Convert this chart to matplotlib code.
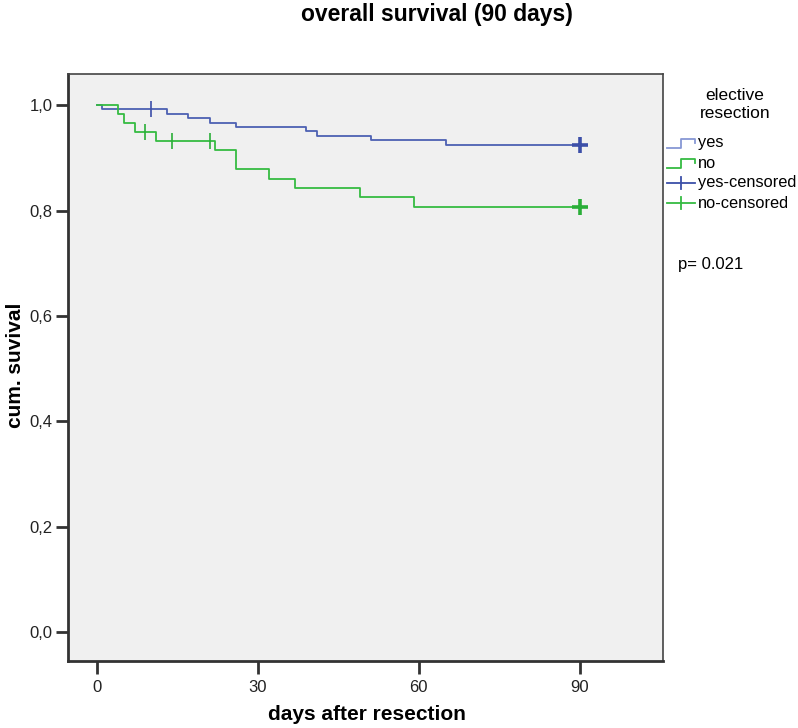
import numpy as np
import matplotlib
matplotlib.use("Agg")
import matplotlib.pyplot as plt
from matplotlib.lines import Line2D

plt.rcParams['font.family'] = ['Liberation Sans', 'DejaVu Sans']

# Kaplan-Meier steps (day, survival after the step)
yes_days = [0, 1, 13, 17, 21, 26, 39, 41, 51, 65, 90]
yes_surv = [1.0, 0.992, 0.983, 0.975, 0.966, 0.958, 0.950, 0.941, 0.933, 0.924, 0.924]
no_days = [0, 4, 5, 7, 11, 22, 26, 32, 37, 49, 59, 90]
no_surv = [1.0, 0.984, 0.967, 0.949, 0.932, 0.915, 0.878, 0.860, 0.842, 0.825, 0.806, 0.806]

# censored observations
yes_cens_days = [10, 90]
yes_cens_surv = [0.992, 0.924]
no_cens_days = [9, 14, 21, 90]
no_cens_surv = [0.949, 0.932, 0.932, 0.806]

x_ticks = [0, 30, 60, 90]
y_ticks = [0.0, 0.2, 0.4, 0.6, 0.8, 1.0]
y_labels = ['0,0', '0,2', '0,4', '0,6', '0,8', '1,0']

blue = '#4d60b2'
green = '#35bb42'
blue_dark = '#3c4fa8'
green_dark = '#2aae38'

W, H = 798, 728


def fx(px):
    return px / W


def fy(py):
    return 1 - py / H


fig = plt.figure(figsize=(7.98, 7.28), dpi=100)
ax = fig.add_axes([0.0852, 0.0920, 0.7456, 0.8063])
ax.set_facecolor('#f0f0f0')

ax.step(yes_days, yes_surv, where='post', color=blue, lw=1.3)
ax.step(no_days, no_surv, where='post', color=green, lw=1.3)

# censor marks: thin ones along the curve, bold ones at day 90
ax.plot(yes_cens_days[:-1], yes_cens_surv[:-1], ls='none', marker='|', ms=11, mew=1.2, color=blue_dark)
ax.plot(no_cens_days[:-1], no_cens_surv[:-1], ls='none', marker='|', ms=11, mew=1.2, color=green_dark)
ax.plot(yes_cens_days[-1:], yes_cens_surv[-1:], ls='none', marker='+', ms=11, mew=2.6, color=blue_dark)
ax.plot(no_cens_days[-1:], no_cens_surv[-1:], ls='none', marker='+', ms=11, mew=2.6, color=green_dark)

ax.set_xlim(-5.4, 105.5)
ax.set_ylim(-0.055, 1.059)
ax.set_xticks(x_ticks)
ax.set_xticklabels([str(t) for t in x_ticks], fontsize=12, color='#222222')
ax.set_yticks(y_ticks)
ax.set_yticklabels(y_labels, fontsize=12, color='#222222')
ax.tick_params(axis='both', length=9, width=2, color='#333333', direction='out')
ax.tick_params(axis='x', pad=5)
ax.tick_params(axis='y', pad=2)

for side in ['left', 'bottom']:
    ax.spines[side].set_linewidth(2)
    ax.spines[side].set_color('#333333')
for side in ['top', 'right']:
    ax.spines[side].set_linewidth(1.2)
    ax.spines[side].set_color('#444444')

fig.text(fx(367), fy(715), 'days after resection', ha='center', va='center',
         fontsize=15, fontweight='bold')
fig.text(fx(16), fy(365), 'cum. suvival', ha='center', va='center', rotation=90,
         fontsize=15, fontweight='bold')
fig.text(fx(437), fy(14), 'overall survival (90 days)', ha='center', va='center',
         fontsize=16.5, fontweight='bold')

# legend drawn by hand (SPSS style step handles)
fig.text(fx(735), fy(104), 'elective\nresection', ha='center', va='center',
         fontsize=12.5, linespacing=1.25)

entries = [('yes', 143, '#8797d4', 'step'),
           ('no', 163, green, 'step'),
           ('yes-censored', 183, blue_dark, 'plus'),
           ('no-censored', 203, green, 'plus')]
for label, py, col, kind in entries:
    if kind == 'step':
        fig.add_artist(Line2D([fx(667), fx(681), fx(681), fx(695), fx(695)],
                              [fy(py + 5), fy(py + 5), fy(py - 4), fy(py - 4), fy(py)],
                              color=col, lw=1.3))
    else:
        fig.add_artist(Line2D([fx(667), fx(695)], [fy(py), fy(py)], color=col, lw=1.3))
        fig.add_artist(Line2D([fx(681), fx(681)], [fy(py - 6), fy(py + 6)], color=col, lw=1.3))
    fig.text(fx(698), fy(py), label, ha='left', va='center', fontsize=11.8)

fig.text(fx(678), fy(265), 'p= 0.021', ha='left', va='center', fontsize=12)

fig.savefig('out.png', dpi=100, facecolor='white')
